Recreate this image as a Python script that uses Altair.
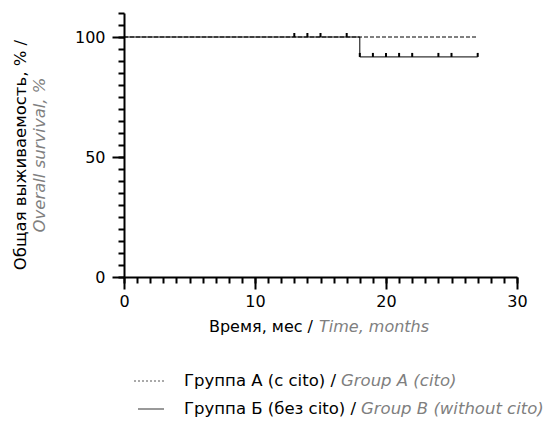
import altair as alt
import pandas as pd

# ---- data ----
group_a_time = [0, 27]
group_a_surv = [100, 100]
group_b_time = [0, 18, 27]
group_b_surv = [100, 91.7, 91.7]
censor_time = [13, 14, 15, 17, 18, 19, 20, 21, 22, 24, 25, 27]
censor_surv = [100, 100, 100, 100, 91.7, 91.7, 91.7, 91.7, 91.7, 91.7, 91.7, 91.7]

x_major = [0, 10, 20, 30]
x_minor = list(range(0, 31))
y_major = [0, 50, 100]
y_minor = list(range(0, 111, 5))

legend_ru = ["Группа А (с cito) /", "Группа Б (без cito) /"]
legend_en = ["Group A (cito)", "Group B (without cito)"]
x_title_ru = "Время, мес /"
x_title_en = "Time, months"
y_title_ru = "Общая выживаемость, % /"
y_title_en = "Overall survival, %"

FONT = "DejaVu Sans"
GRAY = "#7f7f7f"
W, H = 393, 264

df_a = pd.DataFrame({"t": group_a_time, "s": group_a_surv})
df_b = pd.DataFrame({"t": group_b_time, "s": group_b_surv})
df_c = pd.DataFrame({"t": censor_time, "s": censor_surv})

xs = alt.Scale(domain=[0, 30], nice=False, zero=False)
ys = alt.Scale(domain=[0, 110], nice=False, zero=False)

major_x_axis = alt.Axis(values=x_major, tickSize=12, tickWidth=2, tickColor="black",
                        domainWidth=2, domainColor="black", labelFont=FONT, labelFontSize=16,
                        labelColor="black", labelPadding=4, labelFlush=False, grid=False,
                        title=None, orient="bottom", labelOverlap=False)
minor_x_axis = alt.Axis(values=x_minor, tickSize=6, tickWidth=2, tickColor="black",
                        domain=False, labels=False, grid=False, title=None, orient="bottom")
major_y_axis = alt.Axis(values=y_major, tickSize=12, tickWidth=2, tickColor="black",
                        domainWidth=2, domainColor="black", labelFont=FONT, labelFontSize=16,
                        labelColor="black", labelPadding=7, labelFlush=False, grid=False,
                        title=None, orient="left", labelOverlap=False)
minor_y_axis = alt.Axis(values=y_minor, tickSize=6, tickWidth=2, tickColor="black",
                        domain=False, labels=False, grid=False, title=None, orient="left")

line_a = alt.Chart(df_a).mark_line(interpolate="step-after", color="black", strokeWidth=1,
                                   strokeDash=[4, 2]).encode(
    x=alt.X("t:Q", scale=xs, axis=major_x_axis),
    y=alt.Y("s:Q", scale=ys, axis=major_y_axis),
)
line_b = alt.Chart(df_b).mark_line(interpolate="step-after", color="black", strokeWidth=1).encode(
    x=alt.X("t:Q", scale=xs, axis=None),
    y=alt.Y("s:Q", scale=ys, axis=None),
)
censor = alt.Chart(df_c).mark_tick(orient="vertical", color="black", thickness=2, size=4,
                                   yOffset=-2, opacity=1).encode(
    x=alt.X("t:Q", scale=xs, axis=minor_x_axis),
    y=alt.Y("s:Q", scale=ys, axis=minor_y_axis),
)


def txt(s, x, y, color="black", italic=False, align="left", angle=0, size=16):
    return alt.Chart(pd.DataFrame({"label": [s]})).mark_text(
        font=FONT, fontSize=size, color=color, align=align, baseline="middle",
        fontStyle="italic" if italic else "normal", angle=angle,
    ).encode(text="label:N", x=alt.value(x), y=alt.value(y))


# plot origin is at page (124, 13)
OX, OY = 124, 13
LEG = 16.5
texts = [
    txt(x_title_ru, 313 - OX, 327 - OY, align="right"),
    txt(x_title_en, 319 - OX, 327 - OY, color=GRAY, italic=True),
    txt(y_title_ru, 21 - OX, 155 - OY, align="center", angle=270, size=16.5),
    txt(y_title_en, 40 - OX, 155 - OY, color=GRAY, italic=True, align="center", angle=270, size=16.5),
    txt(legend_ru[0], 184 - OX, 381 - OY, size=LEG),
    txt(legend_en[0], 341 - OX, 381 - OY, color=GRAY, italic=True, size=LEG),
    txt(legend_ru[1], 184 - OX, 409 - OY, size=LEG),
    txt(legend_en[1], 361 - OX, 409 - OY, color=GRAY, italic=True, size=LEG),
]

sym_df = pd.DataFrame({"g": ["A"]})
sym_a = alt.Chart(sym_df).mark_rule(color="#555555", strokeWidth=1, strokeDash=[2, 2]).encode(
    x=alt.value(134 - OX), x2=alt.value(164 - OX), y=alt.value(381 - OY))
sym_b = alt.Chart(sym_df).mark_rule(color="#777777", strokeWidth=1.5).encode(
    x=alt.value(138 - OX), x2=alt.value(164 - OX), y=alt.value(409 - OY))

chart = alt.layer(line_a, line_b, censor, sym_a, sym_b, *texts).resolve_axis(
    x="independent", y="independent"
).properties(
    width=W, height=H,
    autosize=alt.AutoSizeParams(type="none"),
    padding={"left": OX - 8, "top": OY - 8, "right": 553 - 16 - W - (OX - 8), "bottom": 431 - 16 - H - (OY - 8)},
).configure_view(stroke=None)

chart.save("out.html", embed_options={"renderer": "svg", "actions": False})
